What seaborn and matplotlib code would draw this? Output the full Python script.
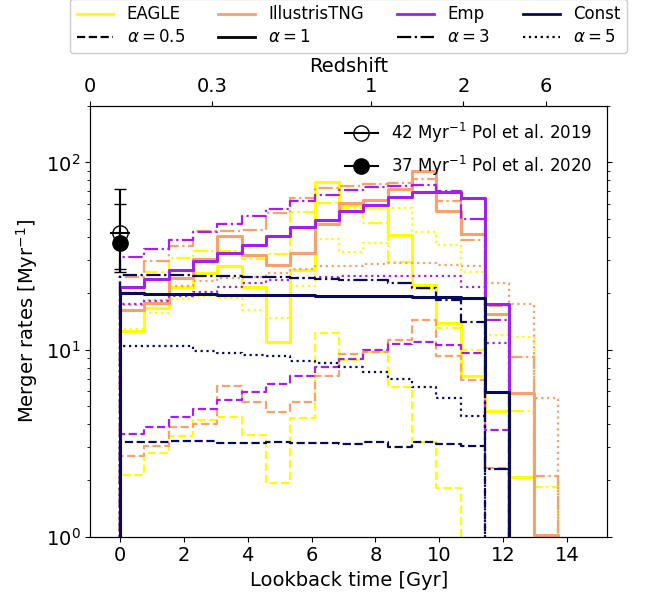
import numpy as np
import matplotlib
matplotlib.use("Agg")
import matplotlib.pyplot as plt
from matplotlib.lines import Line2D
import seaborn as sns

# bin edges in lookback time [Gyr]
t_edges = np.linspace(0, 13.72, 19)

models = ["EAGLE", "IllustrisTNG", "Emp", "Const"]
colors = {"EAGLE": "#ffff00", "IllustrisTNG": "#f8a06e", "Emp": "#a020f0", "Const": "#0a0a5a"}
alphas = [0.5, 1, 3, 5]
styles = {0.5: "--", 1: "-", 3: "-.", 5: ":"}

# merger rates [Myr^-1] per bin
eagle_05 = [2.14, 2.79, 3.47, 4.21, 4.38, 3.49, 1.94, 4.30, 12.3, 8.81, 9.76, 6.34, 3.22, 1.81, 0, 0, 0, 0]
eagle_1 = [12.5, 16.6, 21.6, 25.6, 28.0, 21.7, 11.0, 26.7, 78.6, 59.0, 58.0, 41.0, 22.2, 13.8, 7.23, 4.72, 2.08, 0]
eagle_3 = [20.4, 26.1, 30.8, 33.7, 33.7, 30.5, 32.5, 54.0, 60.7, 57.0, 47.5, 29.5, 21.0, 13.0, 9.9, 4.72, 4.72, 1.85]
eagle_5 = [12.8, 15.7, 18.6, 19.4, 18.8, 16.3, 14.8, 21.9, 39.1, 33.3, 37.1, 57.0, 42.6, 36.3, 26.1, 12.0, 11.7, 0]

tng_05 = [2.71, 3.05, 3.87, 4.0, 6.42, 5.23, 4.66, 5.23, 7.23, 9.48, 9.7, 11.2, 14.4, 9.18, 6.89, 2.34, 0, 0]
tng_1 = [16.3, 17.8, 24.0, 30.5, 40.3, 32.1, 28.2, 32.8, 46.6, 60.6, 62.8, 72.0, 89.5, 54.7, 41.6, 15.5, 5.85, 1.02]
tng_3 = [24.4, 29.6, 35.9, 43.1, 43.1, 43.6, 53.5, 64.5, 72.6, 75.0, 76.2, 78.0, 81.5, 62.0, 38.7, 17.0, 9.1, 2.11]
tng_5 = [17.4, 18.3, 21.9, 23.1, 24.0, 24.4, 25.6, 27.0, 27.8, 27.8, 28.5, 29.0, 29.0, 28.3, 27.8, 22.7, 17.6, 5.5]

emp_05 = [3.54, 3.85, 4.35, 4.80, 5.38, 5.92, 6.53, 7.23, 8.11, 8.91, 9.96, 10.7, 11.0, 10.6, 9.57, 3.72, 0, 0]
emp_1 = [21.6, 23.9, 26.5, 29.6, 32.8, 36.4, 40.2, 45.1, 49.4, 55.2, 59.5, 65.5, 69.6, 69.2, 64.5, 17.6, 0, 0]
emp_3 = [31.2, 34.4, 38.3, 42.6, 47.0, 51.4, 56.5, 61.8, 67.2, 71.4, 73.9, 75.0, 75.7, 70.1, 49.8, 14.4, 0, 0]
emp_5 = [17.6, 18.1, 19.4, 20.2, 21.6, 22.7, 23.6, 24.2, 24.4, 24.8, 24.8, 24.8, 24.8, 24.8, 21.7, 10.9, 0, 0]

const_05 = [3.20, 3.22, 3.24, 3.23, 3.18, 3.16, 3.22, 3.16, 3.16, 3.12, 3.19, 3.02, 3.20, 3.12, 3.07, 0, 0, 0]
const_1 = [20.0, 19.8, 19.8, 19.8, 19.6, 19.6, 19.6, 19.6, 19.4, 19.4, 19.3, 19.3, 19.2, 19.0, 18.8, 5.9, 0, 0]
const_3 = [25.0, 25.0, 24.9, 24.8, 24.6, 24.4, 24.3, 24.0, 23.8, 23.6, 23.4, 22.8, 21.4, 18.5, 14.1, 2.3, 0, 0]
const_5 = [10.5, 10.5, 10.5, 9.84, 9.64, 9.37, 9.18, 8.73, 8.46, 8.11, 7.62, 6.97, 6.29, 5.50, 4.42, 0, 0, 0]

rates = {
    "EAGLE": [eagle_05, eagle_1, eagle_3, eagle_5],
    "IllustrisTNG": [tng_05, tng_1, tng_3, tng_5],
    "Emp": [emp_05, emp_1, emp_3, emp_5],
    "Const": [const_05, const_1, const_3, const_5],
}

# observed rates (Pol et al.)
obs_t = [0, 0]
obs_rate = [42, 37]
obs_lo = [16, 10]
obs_hi = [30, 23]
obs_labels = ["42 Myr$^{-1}$ Pol et al. 2019", "37 Myr$^{-1}$ Pol et al. 2020"]

# redshift axis on top
z_labels = ["0", "0.3", "1", "2", "6"]
z_pos = [-0.94, 2.89, 7.86, 10.76, 13.35]

fig = plt.figure(figsize=(6.48, 6.01), dpi=100)
ax = fig.add_axes([0.1389, 0.1070, 0.7985, 0.7166])

w = t_edges[1] - t_edges[0]
x_step = np.concatenate([[t_edges[0] - w], t_edges])
for m in models:
    for a, vals in zip(alphas, rates[m]):
        y_step = np.concatenate([[0], vals, [0]])
        sns.lineplot(x=x_step, y=y_step, ax=ax, color=colors[m], linestyle=styles[a],
                     lw=2.2 if a == 1 else 1.6, drawstyle="steps-post",
                     estimator=None, sort=False, legend=False)

ax.set_yscale("log")

# observations
ax.errorbar(obs_t[0], obs_rate[0], yerr=[[obs_lo[0]], [obs_hi[0]]], fmt="o", ms=11,
            mfc="none", mec="k", color="k", capsize=4, lw=1.5, zorder=5)
ax.plot(obs_t[0], obs_rate[0], marker="_", ms=15, color="k", mew=1.5, zorder=5)
ax.errorbar(obs_t[1], obs_rate[1], yerr=[[obs_lo[1]], [obs_hi[1]]], fmt="o", ms=11,
            color="k", capsize=4, lw=1.5, zorder=5)

ax.set_xlim(-0.94, 15.27)
ax.set_ylim(1, 200)
ax.set_xticks(np.arange(0, 15, 2))
ax.tick_params(which="both", right=True, labelsize=14)
ax.set_xlabel("Lookback time [Gyr]", fontsize=14)
ax.set_ylabel("Merger rates [Myr$^{-1}$]", fontsize=14)

obs_handles = [
    Line2D([], [], color="k", marker="o", mfc="none", ms=11, lw=1.5),
    Line2D([], [], color="k", marker="o", ms=11, lw=1.5),
]
leg_obs = ax.legend(obs_handles, obs_labels, loc="upper right", frameon=False, fontsize=12)
ax.add_artist(leg_obs)

handles, labels = [], []
for m, a in zip(models, alphas):
    handles.append(Line2D([], [], color=colors[m], lw=2))
    labels.append(m)
    handles.append(Line2D([], [], color="k", lw=2 if a == 1 else 1.6, linestyle=styles[a]))
    labels.append(r"$\alpha = $" + str(a))
ax.legend(handles, labels, ncol=4, loc="lower center", bbox_to_anchor=(0.5, 1.123),
          borderaxespad=0, fontsize=12, framealpha=1, handlelength=2.2,
          columnspacing=2.0, labelspacing=0.3)

ax2 = ax.twiny()
ax2.set_xlim(ax.get_xlim())
ax2.set_xticks(z_pos)
ax2.set_xticklabels(z_labels)
ax2.tick_params(labelsize=14)
ax2.set_xlabel("Redshift", fontsize=14)

fig.savefig("out.png", dpi=100)
